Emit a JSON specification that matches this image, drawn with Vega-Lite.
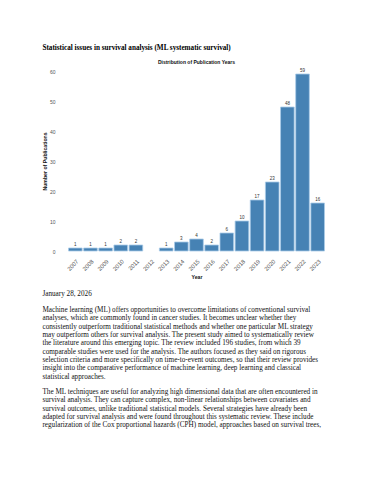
{
  "$schema": "https://vega.github.io/schema/vega-lite/v6.json",
  "background": "white",
  "padding": {"left": 42, "top": 44, "right": 5, "bottom": 5},
  "config": {"view": {"stroke": null}},
  "title": {
    "text": "Statistical issues in survival analysis (ML systematic survival)",
    "anchor": "start",
    "font": "Liberation Serif",
    "fontSize": 7.2,
    "fontWeight": "bold",
    "color": "#000000",
    "offset": 8
  },
  "vconcat": [
    {
      "title": {
        "text": [
          "The ML techniques are useful for analyzing high dimensional data that are often encountered in",
          "survival analysis. They can capture complex, non-linear relationships between covariates and",
          "survival outcomes, unlike traditional statistical models. Several strategies have already been",
          "adapted for survival analysis and were found throughout this systematic review. These include",
          "regularization of the Cox proportional hazards (CPH) model, approaches based on survival trees,"
        ],
        "orient": "bottom",
        "anchor": "start",
        "font": "Liberation Serif",
        "fontSize": 7.2,
        "fontWeight": "normal",
        "color": "#111111",
        "lineHeight": 8.3,
        "offset": 8.3
      },
      "vconcat": [
        {
          "title": {
            "text": "January 28, 2026",
            "subtitle": [
              "Machine learning (ML) offers opportunities to overcome limitations of conventional survival",
              "analyses, which are commonly found in cancer studies. It becomes unclear whether they",
              "consistently outperform traditional statistical methods and whether one particular ML strategy",
              "may outperform others for survival analysis. The present study aimed to systematically review",
              "the literature around this emerging topic. The review included 196 studies, from which 39",
              "comparable studies were used for the analysis. The authors focused as they said on rigorous",
              "selection criteria and more specifically on time-to-event outcomes, so that their review provides",
              "insight into the comparative performance of machine learning, deep learning and classical",
              "statistical approaches."
            ],
            "orient": "bottom",
            "anchor": "start",
            "font": "Liberation Serif",
            "fontSize": 7.2,
            "fontWeight": "normal",
            "color": "#111111",
            "subtitleFont": "Liberation Serif",
            "subtitleFontSize": 7.2,
            "subtitleColor": "#111111",
            "subtitleLineHeight": 8.3,
            "subtitlePadding": 8.5,
            "offset": 11
          },
          "vconcat": [
            {
              "width": 259,
              "height": 180,
              "title": {
                "text": "Distribution of Publication Years",
                "font": "Liberation Sans",
                "fontSize": 5,
                "fontWeight": "bold",
                "color": "#111111",
                "anchor": "middle",
                "offset": 3
              },
              "data": {
                "values": [
                  {"year": "2007", "count": 1},
                  {"year": "2008", "count": 1},
                  {"year": "2009", "count": 1},
                  {"year": "2010", "count": 2},
                  {"year": "2011", "count": 2},
                  {"year": "2012", "count": 0},
                  {"year": "2013", "count": 1},
                  {"year": "2014", "count": 3},
                  {"year": "2015", "count": 4},
                  {"year": "2016", "count": 2},
                  {"year": "2017", "count": 6},
                  {"year": "2018", "count": 10},
                  {"year": "2019", "count": 17},
                  {"year": "2020", "count": 23},
                  {"year": "2021", "count": 48},
                  {"year": "2022", "count": 59},
                  {"year": "2023", "count": 16}
                ]
              },
              "encoding": {
                "x": {
                  "field": "year",
                  "type": "ordinal",
                  "scale": {
                    "domain": ["2007", "2008", "2009", "2010", "2011", "2012", "2013", "2014", "2015", "2016", "2017", "2018", "2019", "2020", "2021", "2022", "2023"],
                    "paddingInner": 0.1,
                    "paddingOuter": 0.1
                  },
                  "axis": {
                    "labelAngle": -45,
                    "labelFont": "Liberation Sans",
                    "labelFontSize": 5.8,
                    "labelColor": "#555555",
                    "domain": false,
                    "ticks": false,
                    "labelPadding": 7,
                    "title": "Year",
                    "titleFont": "Liberation Sans",
                    "titleFontSize": 5.2,
                    "titleFontWeight": "bold",
                    "titleColor": "#111111",
                    "titlePadding": 3
                  }
                },
                "y": {
                  "field": "count",
                  "type": "quantitative",
                  "scale": {"domain": [0, 60]},
                  "axis": {
                    "values": [0, 10, 20, 30, 40, 50, 60],
                    "grid": false,
                    "domain": false,
                    "ticks": false,
                    "labelFont": "Liberation Sans",
                    "labelFontSize": 5,
                    "labelColor": "#555555",
                    "labelPadding": 12,
                    "title": "Number of Publications",
                    "titleFont": "Liberation Sans",
                    "titleFontSize": 5.2,
                    "titleFontWeight": "bold",
                    "titleColor": "#111111",
                    "titlePadding": 2
                  }
                }
              },
              "layer": [
                {
                  "transform": [{"filter": "datum.count > 0"}],
                  "mark": {"type": "bar", "fill": "#4682b4", "stroke": "#a9cce8", "strokeWidth": 0.8}
                },
                {
                  "transform": [{"filter": "datum.count > 0"}],
                  "mark": {"type": "text", "baseline": "bottom", "dy": -1.5, "font": "Liberation Sans", "fontSize": 4.5, "color": "#333333"},
                  "encoding": {"text": {"field": "count", "type": "quantitative"}}
                }
              ]
            }
          ]
        }
      ]
    }
  ]
}
